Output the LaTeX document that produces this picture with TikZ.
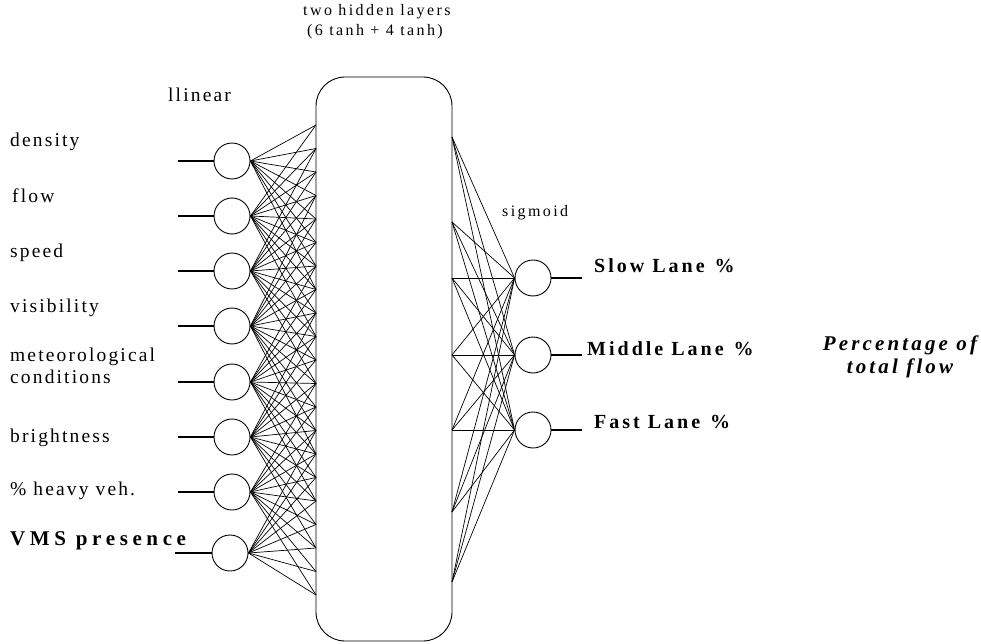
\documentclass[tikz,border=0pt]{standalone}
\usepackage{fontspec}
\setmainfont{Liberation Serif}[LetterSpace=11]
\begin{document}
\begin{tikzpicture}[x=1pt,y=-1pt,
  neuron/.style={draw, circle, minimum size=36pt, inner sep=0pt, line width=0.9pt},
  conn/.style={line width=0.7pt},
  feed/.style={line width=1.5pt},
  inlbl/.style={anchor=base west, inner sep=0pt, font=\fontsize{19.5}{22.5}\selectfont},
  toplbl/.style={anchor=base west, inner sep=0pt, font=\fontsize{16}{20}\selectfont\addfontfeatures{LetterSpace=15}},
  outlbl/.style={anchor=base west, inner sep=0pt, font=\fontsize{20}{22}\selectfont\bfseries\addfontfeatures{LetterSpace=15}},
  notelbl/.style={inner sep=0pt, align=center, font=\fontsize{21}{23}\selectfont\bfseries\itshape\addfontfeatures{LetterSpace=15}}]
\useasboundingbox (0,0) rectangle (981,644);

% hidden-layer block
\node[draw, line width=0.9pt, rounded corners=29pt, minimum width=136pt, minimum height=564pt, inner sep=0pt] (box) at (384,359) {};

% top labels
\node[toplbl] (hid1) at (303,16) {two hidden layers};
\node[toplbl] (hid2) at (307,36) {(6 tanh + 4 tanh)};
\node[inlbl] (lin) at (168,102) {llinear};
\node[toplbl] (sig) at (502,217) {sigmoid};

% input neurons
\foreach \i/\y in {1/161,2/216,3/271,4/326,5/382,6/437,7/492} {
  \node[neuron] (in\i) at (232,\y) {};
  \coordinate (src\i) at (178,\y);
  \draw[feed] (src\i) -- (in\i.west);
}
\node[neuron] (in8) at (230,553) {};
\coordinate (src8) at (175,553);
\draw[feed] (src8) -- (in8.west);

% input labels
\node[inlbl] (t1) at (10,147) {density};
\node[inlbl] (t2) at (12,203) {flow};
\node[inlbl] (t3) at (10,257) {speed};
\node[inlbl] (t4) at (10,312) {visibility};
\node[inlbl] (t5) at (10,361) {meteorological};
\node[inlbl] (t5b) at (10,383) {conditions};
\node[inlbl] (t6) at (10,442) {brightness};
\node[inlbl] (t7) at (10,495) {\% heavy veh.};
\node[inlbl, font=\fontsize{21}{24}\selectfont\bfseries\addfontfeatures{LetterSpace=22}] (t8) at (10,545) {VMS presence};

% targets on the left edge of the block
\foreach \j in {0,...,20} {
  \coordinate (L\j) at (316,{125+23.5*\j});
}
\foreach \i/\y in {1/161,2/216,3/271,4/326,5/382,6/437,7/492,8/553} {
  \foreach \j in {0,...,20} {
    \pgfmathsetmacro\dd{abs(125+23.5*\j-\y)}
    \ifdim\dd pt<132pt
      \draw[conn] (in\i.east) -- (L\j);
    \fi
  }
}

% output neurons
\foreach \k/\y in {1/278,2/355,3/430} {
  \node[neuron] (out\k) at (533,\y) {};
  \coordinate (dst\k) at (582,\y);
  \draw[feed] (out\k.east) -- (dst\k);
}

% sources on the right edge of the block
\foreach \j/\y in {1/137,2/222,3/278,4/355,5/430,6/512,7/582} {
  \coordinate (R\j) at (452,\y);
  \foreach \k in {1,2,3} {
    \draw[conn] (R\j) -- (out\k.west);
  }
}

% output labels
\node[outlbl] (o1) at (594,272) {Slow Lane\enspace\%};
\node[outlbl] (o2) at (587,355) {Middle Lane\enspace\%};
\node[outlbl] (o3) at (594,428) {Fast Lane\enspace\%};

\node[notelbl] (note) at (900,357) {Percentage of\\ total flow};
\end{tikzpicture}
\end{document}
